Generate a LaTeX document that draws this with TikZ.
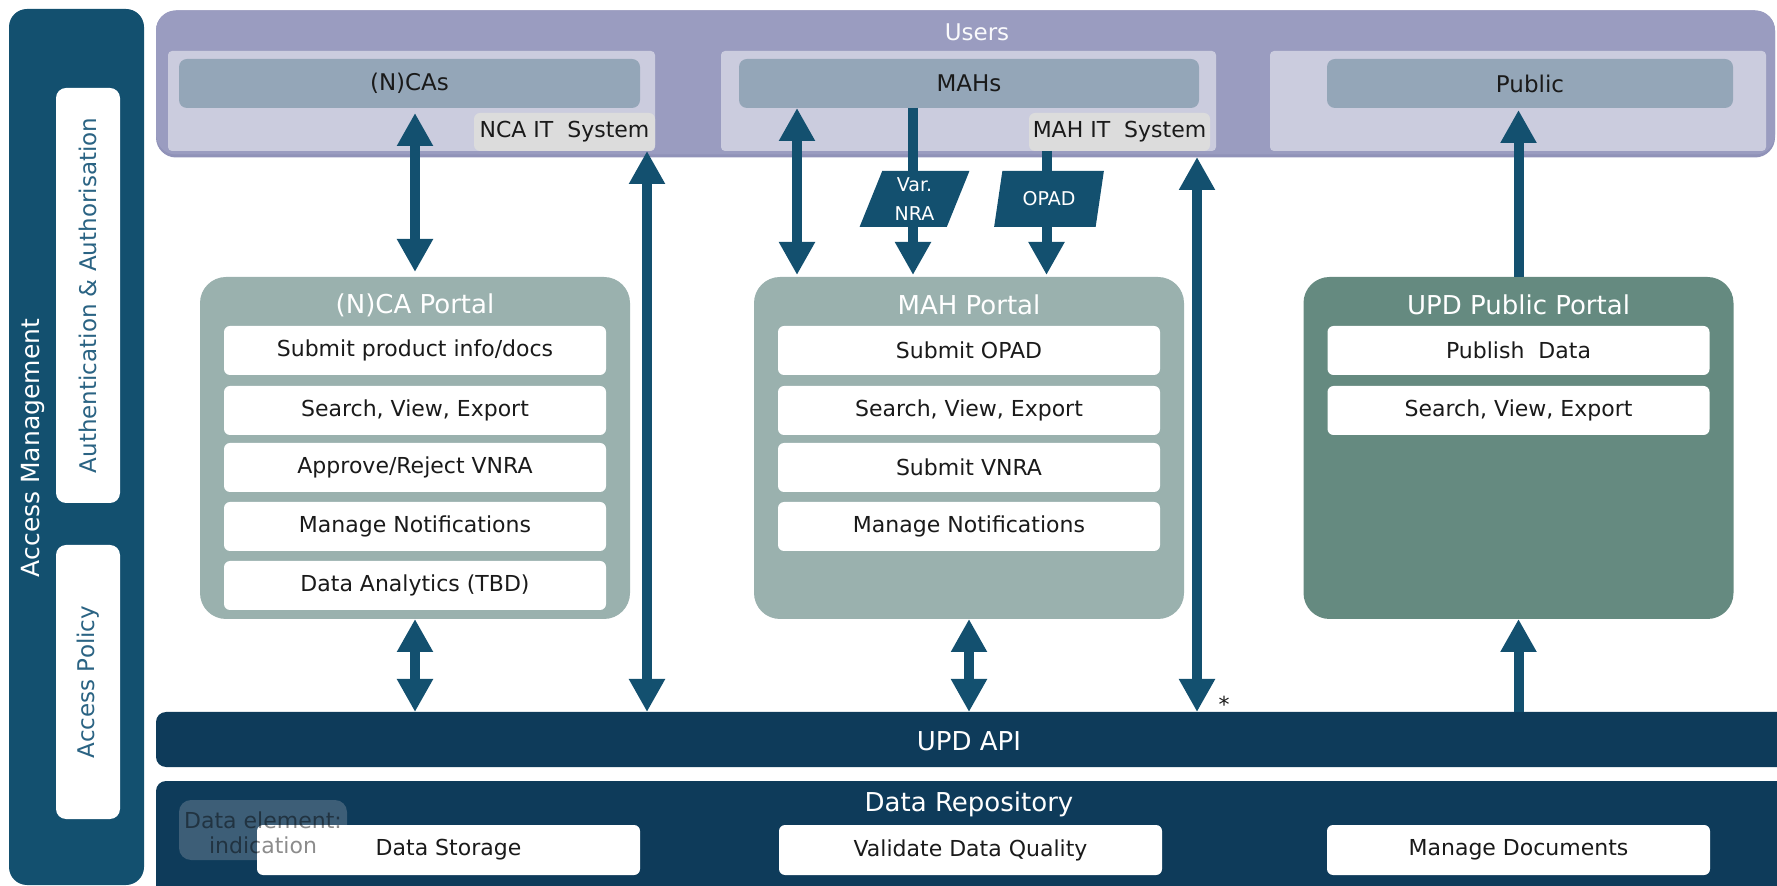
\documentclass[tikz,border=0pt]{standalone}
\usepackage{fontspec}
\setmainfont{DejaVu Sans}
\usetikzlibrary{arrows.meta,shapes.geometric,calc}

\definecolor{accblue}{HTML}{13506F}
\definecolor{usersbg}{HTML}{9A9CC0}
\definecolor{usersedge}{HTML}{9092B8}
\definecolor{panelc}{HTML}{CBCCDE}
\definecolor{rolec}{HTML}{94A6B8}
\definecolor{itgrey}{HTML}{DCDCDC}
\definecolor{arrowc}{HTML}{13506F}
\definecolor{portalc}{HTML}{9AB1AE}
\definecolor{pubportalc}{HTML}{658A80}
\definecolor{apiblue}{HTML}{0E3B5A}
\definecolor{elemc}{HTML}{3D5E77}
\definecolor{authtext}{HTML}{2A6383}
\definecolor{itemtext}{HTML}{1A1A1A}

\begin{document}
\begin{tikzpicture}[x=0.5pt,y=-0.5pt,
  blk/.style={draw=none,inner sep=0pt,outer sep=0pt},
  item/.style={blk,fill=white,rounded corners=3pt,minimum width=191pt,minimum height=24.5pt,
    font=\fontsize{11}{13}\selectfont,text=itemtext},
  portal/.style={blk,rounded corners=13pt,minimum width=215pt,minimum height=171pt},
  ptitle/.style={font=\fontsize{13}{15}\selectfont,text=white},
  panel/.style={blk,fill=panelc,rounded corners=2pt,minimum height=50pt},
  role/.style={blk,fill=rolec,rounded corners=4pt,minimum height=24.5pt,
    font=\fontsize{11.5}{14}\selectfont,text=itemtext},
  itsys/.style={blk,fill=itgrey,rounded corners=3pt,minimum width=90.5pt,minimum height=19pt,
    font=\fontsize{11}{13}\selectfont,text=itemtext},
  sidebox/.style={blk,fill=white,rounded corners=5pt,minimum width=32pt},
  sidetext/.style={rotate=90,font=\fontsize{11.5}{14}\selectfont,text=authtext},
  link/.style={draw=arrowc,line width=5pt},
  dbl/.style={link,{Triangle[width=17pt,length=16.5pt]}-{Triangle[width=17pt,length=16.5pt]}},
  one/.style={link,-{Triangle[width=17pt,length=16.5pt]}},
  datatag/.style={blk,fill=arrowc,shape=trapezium,trapezium left angle=72,trapezium right angle=108,
    trapezium stretches=true,minimum width=55pt,minimum height=28pt,
    font=\fontsize{9.5}{14.5}\selectfont,text=white,align=center}
]
\useasboundingbox (0,0) rectangle (1777,886);
\clip (0,0) rectangle (1777,886);

% access management column
\node[blk,fill=accblue,rounded corners=9pt,minimum width=67.5pt,minimum height=438pt] (accbar) at (76.5,447) {};
\node[rotate=90,font=\fontsize{12.5}{15}\selectfont,text=white] (accmgmt) at (33,448) {Access Management};
\node[sidebox,minimum height=207.5pt] (auth) at (88,295.5) {};
\node[sidetext] (authlabel) at (auth.center) {Authentication \& Authorisation};
\node[sidebox,minimum height=137pt] (policy) at (88,682) {};
\node[sidetext] (policylabel) at (policy.center) {Access Policy};

% users band (slightly darker lower rim under the main fill)
\node[blk,fill=usersedge,rounded corners=10pt,minimum width=809.5pt,minimum height=73.5pt] (usersrim) at (965.5,84) {};
\node[blk,fill=usersbg,rounded corners=10pt,minimum width=809.5pt,minimum height=72pt] (users) at (965.5,82.5) {};
\node[font=\fontsize{11.5}{14}\selectfont,text=white!95!usersbg] (userslabel) at (977,32) {Users};
\node[panel,minimum width=243.5pt] (pnca) at (411.5,101) {};
\node[panel,minimum width=247.5pt] (pmah) at (968.5,101) {};
\node[panel,minimum width=248pt] (ppub) at (1518,101) {};
\node[role,minimum width=230.5pt] (ncas) at (409.5,83.5) {(N)CAs};
\node[role,minimum width=230pt] (mahs) at (969,83.5) {MAHs};
\node[role,minimum width=203pt] (public) at (1530,83.5) {Public};
\node[itsys] (ncait) at (564.5,132) {NCA IT\ \ System};
\node[itsys] (mahit) at (1119.5,132) {MAH IT\ \ System};

% portals
\node[portal,fill=portalc] (ncap) at (415,448) {};
\node[portal,fill=portalc] (mahp) at (969,448) {};
\node[portal,fill=pubportalc] (pubp) at (1518.5,448) {};
\node[ptitle] (ncaptitle) at (415,305) {(N)CA Portal};
\node[ptitle] (mahptitle) at (969,305) {MAH Portal};
\node[ptitle] (pubptitle) at (1518.5,305) {UPD Public Portal};

\node[item] (n1) at (415,350.5) {Submit product info/docs};
\node[item] (n2) at (415,410.5) {Search, View, Export};
\node[item] (n3) at (415,467.5) {Approve/Reject VNRA};
\node[item] (n4) at (415,526.5) {Manage Notifications};
\node[item] (n5) at (415,585.5) {Data Analytics (TBD)};

\node[item] (m1) at (969,350.5) {Submit OPAD};
\node[item] (m2) at (969,410.5) {Search, View, Export};
\node[item] (m3) at (969,467.5) {Submit VNRA};
\node[item] (m4) at (969,526.5) {Manage Notifications};

\node[item] (u1) at (1518.5,350.5) {Publish\ \ Data};
\node[item] (u2) at (1518.5,410.5) {Search, View, Export};

% API and repository
\node[blk,fill=apiblue,rounded corners=5pt,minimum width=822pt,minimum height=27.5pt] (api) at (978,739.5) {};
\node[font=\fontsize{13}{15}\selectfont,text=white] (apilabel) at (969,741) {UPD API};
\node[blk,fill=apiblue,rounded corners=5pt,minimum width=822pt,minimum height=62pt] (repo) at (978,843) {};
\node[font=\fontsize{13}{15}\selectfont,text=white] (repolabel) at (969,804) {Data Repository};
\node[blk,fill=elemc,rounded corners=6pt,minimum width=84pt,minimum height=30pt] (elem) at (263,830) {};
\node[item,minimum width=191.5pt,minimum height=25pt] (dstore) at (448.5,850) {Data Storage};
\node[item,minimum width=191.5pt,minimum height=25pt] (dvalid) at (970.5,850) {Validate Data Quality};
\node[item,minimum width=191.5pt,minimum height=25pt] (ddocs) at (1518.5,850) {Manage Documents};
\node[font=\fontsize{11}{12.7}\selectfont,text=black,text opacity=0.45,align=center] (elemlabel) at (263,833) {Data element:\\indication};

% connectors between users and portals
\draw[dbl,shorten <=2.5pt,shorten >=2.5pt] (ncap.north |- ncas.south) -- (ncap.north);
\draw[dbl] ([xshift=-4pt]ncait.south east) -- ([xshift=-4pt]ncait.south east |- api.north);
\draw[dbl,shorten >=1pt] ([xshift=21.5pt]mahp.north west |- mahs.south) -- ([xshift=21.5pt]mahp.north west);
\draw[one,shorten >=1pt] ([xshift=-28pt]mahs.south) -- ([xshift=-28pt]mahs.south |- mahp.north);
\draw[one,shorten >=1pt] ([xshift=-36.5pt]mahit.south) -- ([xshift=-36.5pt]mahit.south |- mahp.north);
\draw[dbl,shorten <=3pt] ([xshift=-6.5pt]mahit.south east) -- ([xshift=-6.5pt]mahit.south east |- api.north);
\draw[one,shorten >=1pt] (pubp.north) -- (pubp.north |- public.south);

% connectors between portals and API
\draw[dbl] (ncap.south) -- (ncap.south |- api.north);
\draw[dbl] (mahp.south) -- (mahp.south |- api.north);
\draw[one] (pubp.south |- api.north) -- (pubp.south);

% data tags on the MAH lines
\node[datatag] (varnra) at (914.5,199) {Var.\\NRA};
\node[datatag] (opad) at (1049,199) {OPAD};

\node[font=\fontsize{11}{13}\selectfont,text=itemtext] (star) at (1224,704) {*};
\end{tikzpicture}
\end{document}
